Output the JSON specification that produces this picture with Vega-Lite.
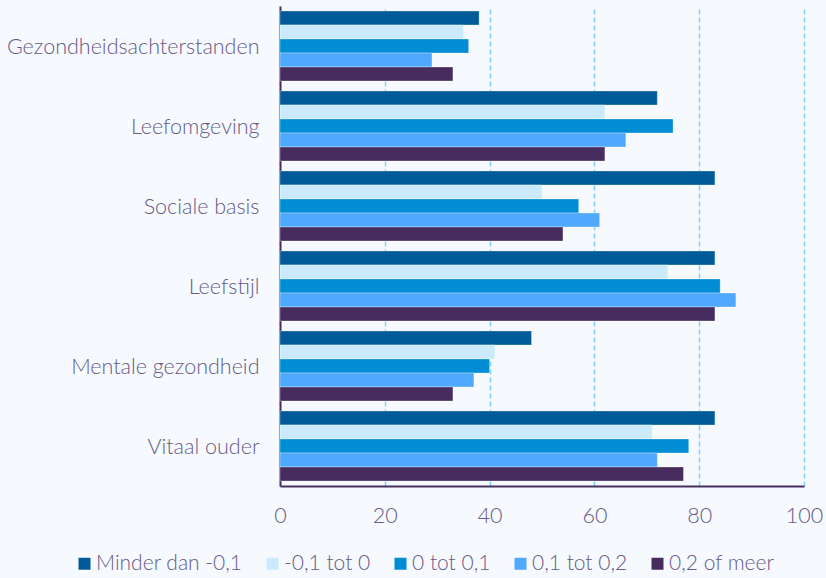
{
  "$schema": "https://vega.github.io/schema/vega-lite/v6.json",
  "width": 524,
  "height": 480,
  "autosize": {"type": "none"},
  "padding": {"left": 280, "top": 6, "right": 22, "bottom": 92},
  "background": "#f6f9fd",
  "config": {"view": {"stroke": null}, "font": "Lato"},
  "data": {
    "values": [
      {"categorie": "Gezondheidsachterstanden", "groep": "Minder dan -0,1", "waarde": 38},
      {"categorie": "Gezondheidsachterstanden", "groep": "-0,1 tot 0", "waarde": 35},
      {"categorie": "Gezondheidsachterstanden", "groep": "0 tot 0,1", "waarde": 36},
      {"categorie": "Gezondheidsachterstanden", "groep": "0,1 tot 0,2", "waarde": 29},
      {"categorie": "Gezondheidsachterstanden", "groep": "0,2 of meer", "waarde": 33},
      {"categorie": "Leefomgeving", "groep": "Minder dan -0,1", "waarde": 72},
      {"categorie": "Leefomgeving", "groep": "-0,1 tot 0", "waarde": 62},
      {"categorie": "Leefomgeving", "groep": "0 tot 0,1", "waarde": 75},
      {"categorie": "Leefomgeving", "groep": "0,1 tot 0,2", "waarde": 66},
      {"categorie": "Leefomgeving", "groep": "0,2 of meer", "waarde": 62},
      {"categorie": "Sociale basis", "groep": "Minder dan -0,1", "waarde": 83},
      {"categorie": "Sociale basis", "groep": "-0,1 tot 0", "waarde": 50},
      {"categorie": "Sociale basis", "groep": "0 tot 0,1", "waarde": 57},
      {"categorie": "Sociale basis", "groep": "0,1 tot 0,2", "waarde": 61},
      {"categorie": "Sociale basis", "groep": "0,2 of meer", "waarde": 54},
      {"categorie": "Leefstijl", "groep": "Minder dan -0,1", "waarde": 83},
      {"categorie": "Leefstijl", "groep": "-0,1 tot 0", "waarde": 74},
      {"categorie": "Leefstijl", "groep": "0 tot 0,1", "waarde": 84},
      {"categorie": "Leefstijl", "groep": "0,1 tot 0,2", "waarde": 87},
      {"categorie": "Leefstijl", "groep": "0,2 of meer", "waarde": 83},
      {"categorie": "Mentale gezondheid", "groep": "Minder dan -0,1", "waarde": 48},
      {"categorie": "Mentale gezondheid", "groep": "-0,1 tot 0", "waarde": 41},
      {"categorie": "Mentale gezondheid", "groep": "0 tot 0,1", "waarde": 40},
      {"categorie": "Mentale gezondheid", "groep": "0,1 tot 0,2", "waarde": 37},
      {"categorie": "Mentale gezondheid", "groep": "0,2 of meer", "waarde": 33},
      {"categorie": "Vitaal ouder", "groep": "Minder dan -0,1", "waarde": 83},
      {"categorie": "Vitaal ouder", "groep": "-0,1 tot 0", "waarde": 71},
      {"categorie": "Vitaal ouder", "groep": "0 tot 0,1", "waarde": 78},
      {"categorie": "Vitaal ouder", "groep": "0,1 tot 0,2", "waarde": 72},
      {"categorie": "Vitaal ouder", "groep": "0,2 of meer", "waarde": 77}
    ]
  },
  "mark": {"type": "bar", "stroke": "#ffffff", "strokeWidth": 0.6, "strokeOpacity": 0.5},
  "encoding": {
    "y": {
      "field": "categorie",
      "type": "nominal",
      "sort": ["Gezondheidsachterstanden", "Leefomgeving", "Sociale basis", "Leefstijl", "Mentale gezondheid", "Vitaal ouder"],
      "scale": {"paddingInner": 0.125, "paddingOuter": 0.0625},
      "axis": {
        "title": null,
        "domain": true,
        "domainColor": "#46305e",
        "domainWidth": 2,
        "ticks": false,
        "labelPadding": 21,
        "labelOffset": 2,
        "labelFont": "Lato",
        "labelFontWeight": 300,
        "labelFontSize": 21.5,
        "labelColor": "#665a88",
        "labelLimit": 300
      }
    },
    "yOffset": {
      "field": "groep",
      "sort": ["Minder dan -0,1", "-0,1 tot 0", "0 tot 0,1", "0,1 tot 0,2", "0,2 of meer"]
    },
    "x": {
      "field": "waarde",
      "type": "quantitative",
      "scale": {"domain": [0, 100]},
      "axis": {
        "title": null,
        "values": [0, 20, 40, 60, 80, 100],
        "grid": true,
        "gridColor": "#7fcfff",
        "gridDash": [5, 3],
        "gridWidth": 1.5,
        "domainColor": "#46305e",
        "domainWidth": 2,
        "ticks": false,
        "labelFlush": false,
        "labelPadding": 19,
        "labelFont": "Lato",
        "labelFontWeight": 300,
        "labelFontSize": 21.5,
        "labelColor": "#665a88"
      }
    },
    "color": {
      "field": "groep",
      "type": "nominal",
      "scale": {
        "domain": ["Minder dan -0,1", "-0,1 tot 0", "0 tot 0,1", "0,1 tot 0,2", "0,2 of meer"],
        "range": ["#005b98", "#c9ebfd", "#008dd4", "#50a9fd", "#472d5f"]
      },
      "legend": {
        "title": null,
        "orient": "none",
        "legendX": -206,
        "legendY": 547,
        "direction": "horizontal",
        "padding": 0,
        "symbolType": "square",
        "symbolSize": 144,
        "symbolStrokeWidth": 0,
        "labelOffset": 1,
        "columnPadding": 19,
        "labelFont": "Lato",
        "labelFontWeight": 300,
        "labelFontSize": 21,
        "labelColor": "#665a88",
        "labelLimit": 300
      }
    }
  }
}
